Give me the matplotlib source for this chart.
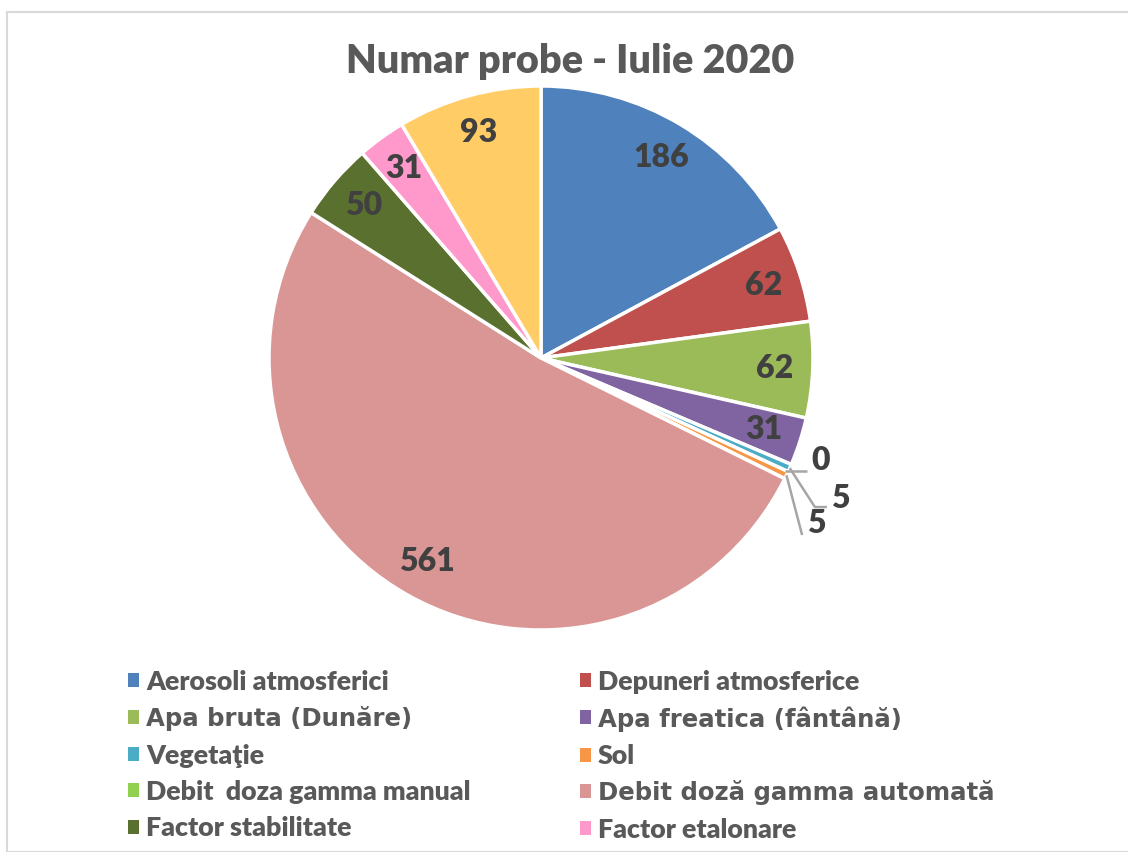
import matplotlib
matplotlib.use("Agg")
import matplotlib.pyplot as plt
from matplotlib.patches import Rectangle, Patch
import numpy as np

title = "Numar probe - Iulie 2020"
categories = ["Aerosoli atmosferici", "Depuneri atmosferice", "Apa bruta (Dunăre)",
              "Apa freatica (fântână)", "Vegetaţie", "Sol", "Debit  doza gamma manual",
              "Debit doză gamma automată", "Factor stabilitate", "Factor etalonare", "Altele"]
values = [186, 62, 62, 31, 5, 5, 0, 561, 50, 31, 93]
colors = ["#4F81BD", "#C0504D", "#9BBB59", "#8064A2", "#4BACC6", "#F79646",
          "#92D050", "#D99694", "#5A702E", "#FF99CC", "#FFCC66"]
legend_count = 10
dejavu_entries = {"Apa bruta (Dunăre)", "Apa freatica (fântână)", "Debit doză gamma automată"}
small_label_order = [6, 4, 5]  # slices labelled outside with leaders

W, H = 1128, 852
fig = plt.figure(figsize=(W / 100, H / 100), dpi=100)
fig.patches.append(Rectangle((7 / W, 0), 1.2, (H - 12) / H, transform=fig.transFigure,
                             fill=False, edgecolor="#D9D9D9", linewidth=1.5))

cx, cy, r = 541, 358, 272
ax = fig.add_axes([(cx - r) / W, (H - cy - r) / H, 2 * r / W, 2 * r / H])
wedges, _ = ax.pie(values, colors=colors, startangle=90, counterclock=False,
                   wedgeprops=dict(edgecolor="white", linewidth=2.5))
ax.set_xlim(-1, 1)
ax.set_ylim(-1, 1)
ax.set_aspect("equal")
ax.axis("off")

lab_font = dict(family="Lato", fontweight="heavy", color="#404040", fontsize=23)
for i, (w, v) in enumerate(zip(wedges, values)):
    if i in small_label_order:
        continue
    ang = np.deg2rad((w.theta1 + w.theta2) / 2)
    ax.text(0.86 * np.cos(ang), 0.86 * np.sin(ang), str(v), ha="center", va="center", **lab_font)

# small slices: leader lines (in data units of the unit-radius pie)
leaders = [
    [(0.978, -0.415)],
    [(1.007, -0.548), (1.051, -0.548)],
    [(0.960, -0.651)],
]
label_pos = [(1.029, -0.375), (1.099, -0.515), (1.011, -0.610)]
for k, i in enumerate(small_label_order):
    w = wedges[i]
    ang = np.deg2rad((w.theta1 + w.theta2) / 2)
    x0, y0 = 1.0 * np.cos(ang), 1.0 * np.sin(ang)
    pts = [(x0, y0)] + leaders[k]
    if k == 0:
        pts = [(x0, -0.415)] + leaders[k]
    xs, ys = zip(*pts)
    ax.plot(xs, ys, color="#A6A6A6", lw=1.8, clip_on=False, solid_capstyle="butt")
    ax.text(label_pos[k][0], label_pos[k][1], str(values[i]), ha="center", va="center",
            clip_on=False, **lab_font)

fig.text(570 / W, (H - 61) / H, title, ha="center", va="center", family="Lato",
         fontweight="heavy", fontsize=28.5, color="#595959")

handles = [Patch(facecolor=colors[i], edgecolor="none") for i in range(legend_count)]
order = [0, 2, 4, 6, 8, 1, 3, 5, 7, 9]
leg = fig.legend([handles[i] for i in order], [categories[i] for i in order], ncol=2,
                 loc="upper left", bbox_to_anchor=(128 / W, (H - 670) / H), frameon=False,
                 borderaxespad=0, handlelength=0.42, handleheight=0.42, handletextpad=0.27,
                 columnspacing=4.05, labelspacing=0.46, borderpad=0,
                 prop=dict(family="Lato", weight="heavy", size=19.3))
for t in leg.get_texts():
    t.set_color("#595959")
    if t.get_text() in dejavu_entries:
        t.set_fontfamily("DejaVu Sans")
        t.set_fontweight("bold")
        t.set_fontsize(17.6)

fig.savefig("out.png", dpi=100, facecolor="white")
